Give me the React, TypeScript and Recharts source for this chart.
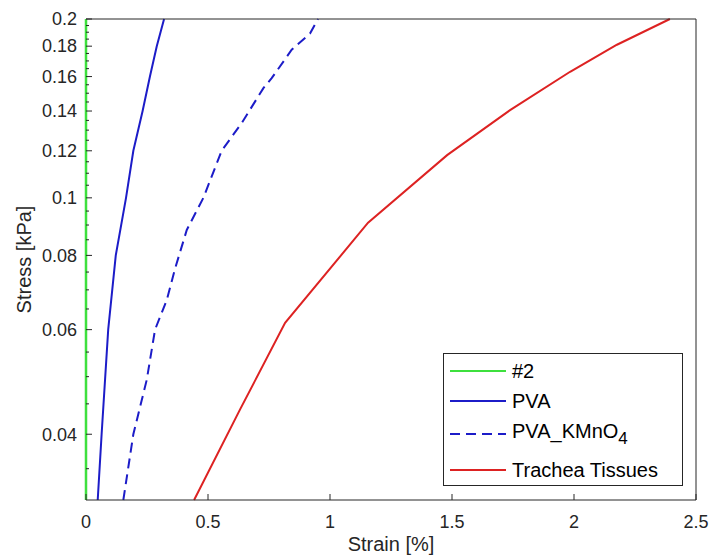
import { LineChart, Line, XAxis, YAxis, Legend, Label } from "recharts";

// axis ticks
const strainTicks = [0, 0.5, 1, 1.5, 2, 2.5];
const stressMajor = [0.04, 0.06, 0.08, 0.1, 0.12, 0.14, 0.16, 0.18, 0.2];
const stressMinor = [
  0.035, 0.045, 0.05, 0.055, 0.065, 0.07, 0.075, 0.085, 0.09, 0.095, 0.105, 0.11, 0.115,
  0.125, 0.13, 0.135, 0.145, 0.15, 0.155, 0.165, 0.17, 0.175, 0.185, 0.19, 0.195,
];
const stressTicks = [...stressMajor, ...stressMinor].sort((a, b) => a - b);

// series
const seriesNames = ["#2", "PVA", "PVA_KMnO4", "Trachea Tissues"];

const strain2 = [0, 0];
const stress2 = [0.031, 0.2];

const strainPVA = [0.048, 0.064, 0.091, 0.122, 0.164, 0.194, 0.232, 0.262, 0.29, 0.32];
const stressPVA = [0.031, 0.04, 0.06, 0.08, 0.1, 0.12, 0.14, 0.16, 0.18, 0.2];

const strainKMnO4 = [0.153, 0.194, 0.249, 0.283, 0.331, 0.365, 0.413, 0.481, 0.556, 0.64, 0.727, 0.761, 0.843, 0.918, 0.951];
const stressKMnO4 = [0.031, 0.04, 0.0494, 0.06, 0.0673, 0.076, 0.0883, 0.1, 0.12, 0.134, 0.153, 0.159, 0.1775, 0.189, 0.2];

const strainTrachea = [0.443, 0.631, 0.816, 1.156, 1.48, 1.738, 1.984, 2.176, 2.393];
const stressTrachea = [0.031, 0.044, 0.0616, 0.0908, 0.118, 0.1405, 0.163, 0.181, 0.2];

const pair = (xs: number[], ys: number[]) => xs.map((x, i) => ({ x, y: ys[i] }));

const ink = "#262626";
const font = "'Liberation Sans', Arial, Helvetica, sans-serif";
const colors = ["#3ee03e", "#1c1cc8", "#1c1cc8", "#dd2222"];
const widths = [2.5, 2, 2, 2];
const dashes = [undefined, undefined, "10 6", undefined];

const series = [
  pair(strain2, stress2),
  pair(strainPVA, stressPVA),
  pair(strainKMnO4, stressKMnO4),
  pair(strainTrachea, stressTrachea),
];

const fmt = (v: number) => String(Number(v.toFixed(3)));

const Y_MARGIN = 9;
const X_MARGIN = 15;

function LeftTick({ x, y, payload }: any) {
  const major = stressMajor.includes(payload.value);
  const ax = x + Y_MARGIN;
  return (
    <g>
      <line x1={ax} x2={ax + (major ? 6 : 3)} y1={y} y2={y} stroke={ink} />
      {major && (
        <text x={x} y={y} dy="0.35em" textAnchor="end" fill={ink} fontSize={18} fontFamily={font}>
          {fmt(payload.value)}
        </text>
      )}
    </g>
  );
}

function RightTick({ x, y, payload }: any) {
  const major = stressMajor.includes(payload.value);
  return <line x1={x} x2={x - (major ? 6 : 3)} y1={y} y2={y} stroke={ink} />;
}

function BottomTick({ x, y, payload }: any) {
  const ay = y - X_MARGIN;
  return (
    <g>
      <line x1={x} x2={x} y1={ay} y2={ay - 6} stroke={ink} />
      <text x={x} y={y} dy="0.71em" textAnchor="middle" fill={ink} fontSize={18} fontFamily={font}>
        {fmt(payload.value)}
      </text>
    </g>
  );
}

function TopTick({ x, y }: any) {
  return <line x1={x} x2={x} y1={y} y2={y + 6} stroke={ink} />;
}

function LegendLabel({ name }: { name: string }) {
  const m = name.match(/^(.*[A-Za-z])(\d+)$/);
  if (m && name.includes("_")) {
    return (
      <span>
        {m[1]}
        <sub style={{ fontSize: 17, verticalAlign: "-6px" }}>{m[2]}</sub>
      </span>
    );
  }
  return <span>{name}</span>;
}

const rowHeights = [30, 30, 36, 36];

function LegendBox() {
  return (
    <div
      style={{
        border: `1px solid ${ink}`,
        background: "#fff",
        boxSizing: "border-box",
        width: 240,
        height: 133,
        paddingTop: 2,
        fontFamily: font,
        fontSize: 20,
        color: "#000",
      }}
    >
      {seriesNames.map((name, i) => (
        <div key={name} style={{ height: rowHeights[i], display: "flex", alignItems: "center", lineHeight: 1 }}>
          <svg width={62} height={6} style={{ marginLeft: 6, flex: "none" }}>
            <line x1={0} x2={56} y1={3} y2={3} stroke={colors[i]} strokeWidth={2} strokeDasharray={dashes[i]} />
          </svg>
          <LegendLabel name={name} />
        </div>
      ))}
    </div>
  );
}

export default function App() {
  return (
    <div style={{ position: "absolute", left: 0, top: 0, width: 710, height: 558, background: "#fff" }}>
      <LineChart width={710} height={558} margin={{ top: 18, right: 13, left: 0, bottom: 0 }}>
        <XAxis
          xAxisId="b"
          type="number"
          dataKey="x"
          domain={[0, 2.5]}
          ticks={strainTicks}
          height={58}
          tickSize={0}
          tickMargin={X_MARGIN}
          tick={<BottomTick />}
          axisLine={{ stroke: ink }}
        >
          <Label value="Strain [%]" position="insideBottom" offset={7} fill={ink} fontSize={20} fontFamily={font} />
        </XAxis>
        <XAxis
          xAxisId="t"
          orientation="top"
          type="number"
          dataKey="x"
          domain={[0, 2.5]}
          ticks={strainTicks}
          height={1}
          tickSize={0}
          tickMargin={0}
          tick={<TopTick />}
          axisLine={{ stroke: ink }}
        />
        <YAxis
          yAxisId="l"
          type="number"
          dataKey="y"
          scale="log"
          domain={[0.031, 0.2]}
          ticks={stressTicks}
          interval={0}
          width={86}
          tickSize={0}
          tickMargin={Y_MARGIN}
          tick={<LeftTick />}
          axisLine={false}
        >
          <Label
            value="Stress [kPa]"
            angle={-90}
            position="insideLeft"
            offset={24}
            fill={ink}
            fontSize={20}
            fontFamily={font}
            style={{ textAnchor: "middle" }}
          />
        </YAxis>
        <YAxis
          yAxisId="r"
          orientation="right"
          type="number"
          dataKey="y"
          scale="log"
          domain={[0.031, 0.2]}
          ticks={stressTicks}
          interval={0}
          width={1}
          tickSize={0}
          tickMargin={0}
          tick={<RightTick />}
          axisLine={{ stroke: ink }}
        />
        {series.map((data, i) => (
          <Line
            key={seriesNames[i]}
            xAxisId="b"
            yAxisId="l"
            data={data}
            dataKey="y"
            name={seriesNames[i]}
            type="linear"
            stroke={colors[i]}
            strokeWidth={widths[i]}
            strokeDasharray={dashes[i]}
            dot={false}
            activeDot={false}
            isAnimationActive={false}
          />
        ))}
        <Legend
          layout="vertical"
          align="center"
          verticalAlign="middle"
          content={() => <LegendBox />}
          wrapperStyle={{ left: 443, top: 353, width: 240, height: 133 }}
        />
      </LineChart>
    </div>
  );
}
